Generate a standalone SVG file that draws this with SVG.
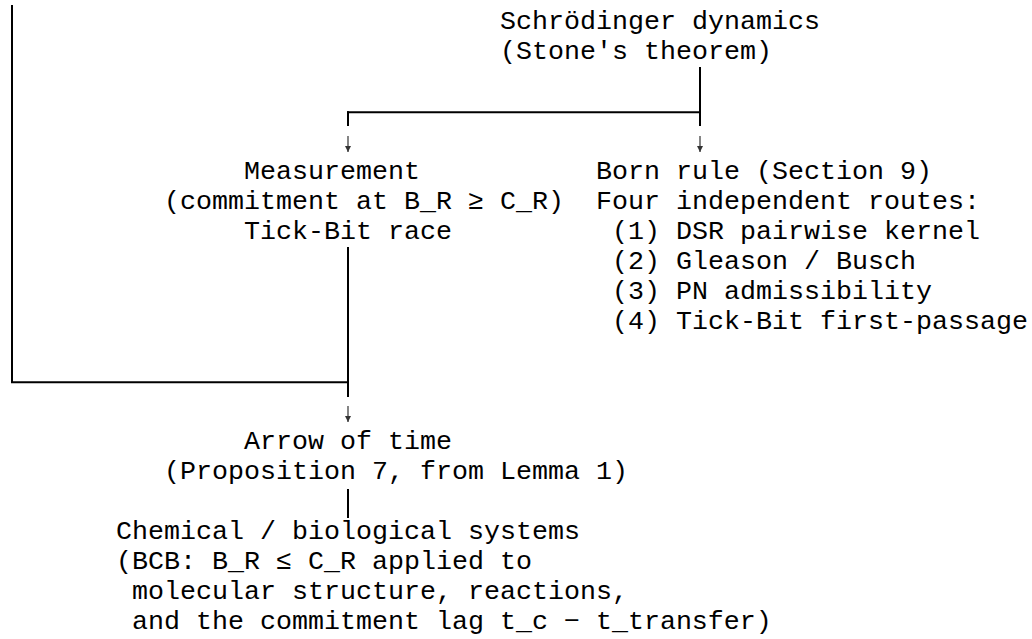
<svg xmlns="http://www.w3.org/2000/svg" width="1032" height="639" viewBox="0 0 1032 639">
<style>
  text { font-family: "Liberation Mono", "DejaVu Sans Mono", monospace; font-size: 26.67px; fill: #000; white-space: pre; }
  .box { stroke: #000; stroke-width: 2; fill: none; stroke-linecap: butt; }
  .arr { stroke: #333; stroke-width: 1.2; fill: none; marker-end: url(#ah); }
</style>
<defs>
  <marker id="ah" viewBox="0 0 6 6" refX="6" refY="3" markerWidth="6" markerHeight="6" markerUnits="userSpaceOnUse" orient="auto">
    <path d="M0,0 L6,3 L0,6 z" fill="#333"/>
  </marker>
</defs>
<rect width="1032" height="639" fill="#fff"/>
<g id="connectors">
  <line class="box" x1="12" y1="5" x2="12" y2="383"/>
  <line class="box" x1="11" y1="382.3" x2="349" y2="382.3"/>
  <line class="box" x1="700" y1="67" x2="700" y2="126"/>
  <line class="box" x1="347" y1="112.3" x2="701" y2="112.3"/>
  <line class="box" x1="348" y1="111.3" x2="348" y2="126"/>
  <line class="arr" x1="348" y1="136" x2="348" y2="152"/>
  <line class="arr" x1="700" y1="136" x2="700" y2="152"/>
  <line class="box" x1="348" y1="247" x2="348" y2="397"/>
  <line class="arr" x1="348" y1="406" x2="348" y2="422"/>
  <line class="box" x1="348" y1="489" x2="348" y2="518"/>
</g>
<g id="node-schrodinger">
  <text x="500" y="28.5">Schrödinger dynamics</text>
  <text x="500" y="58.5">(Stone's theorem)</text>
</g>
<g id="node-measurement">
  <text x="244" y="178.5">Measurement</text>
  <text x="164" y="208.5">(commitment at B_R ≥ C_R)</text>
  <text x="244" y="238.5">Tick-Bit race</text>
</g>
<g id="node-born">
  <text x="596" y="178.5">Born rule (Section 9)</text>
  <text x="596" y="208.5">Four independent routes:</text>
  <text x="612" y="238.5">(1) DSR pairwise kernel</text>
  <text x="612" y="268.5">(2) Gleason / Busch</text>
  <text x="612" y="298.5">(3) PN admissibility</text>
  <text x="612" y="328.5">(4) Tick-Bit first-passage</text>
</g>
<g id="node-arrow">
  <text x="244" y="448.5">Arrow of time</text>
  <text x="164" y="478.5">(Proposition 7, from Lemma 1)</text>
</g>
<g id="node-chem">
  <text x="116" y="538.5">Chemical / biological systems</text>
  <text x="116" y="568.5">(BCB: B_R ≤ C_R applied to</text>
  <text x="132" y="598.5">molecular structure, reactions,</text>
  <text x="132" y="628.5">and the commitment lag t_c − t_transfer)</text>
</g>
</svg>
